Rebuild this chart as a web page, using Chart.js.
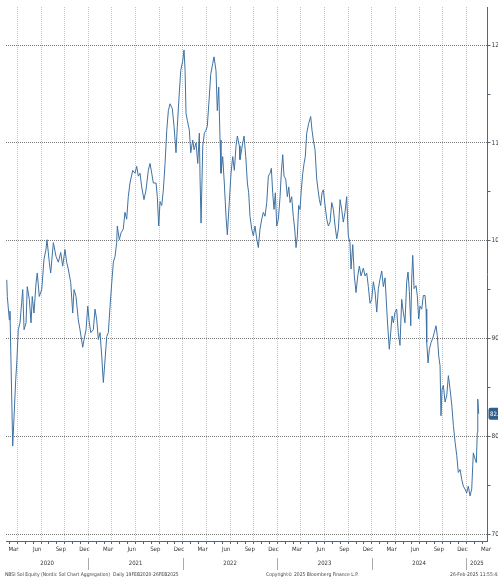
<!DOCTYPE html>
<html>
<head>
<meta charset="utf-8">
<script src="https://cdn.jsdelivr.net/npm/chart.js@4.4.1/dist/chart.umd.min.js"></script>
<style>
  html, body { margin: 0; padding: 0; background: #fff; }
  #wrap { width: 498px; height: 580px; }
</style>
</head>
<body>
<div id="wrap"><canvas id="chart" width="498" height="580"></canvas></div>
<script>
// time as decimal years, value as index level
const dates = [
  2020.137, 2020.143, 2020.164, 2020.171, 2020.182, 2020.200, 2020.214, 2020.232, 2020.243, 2020.259,
  2020.277, 2020.295, 2020.306, 2020.320, 2020.341, 2020.354, 2020.376, 2020.394, 2020.407, 2020.425,
  2020.447, 2020.460, 2020.481, 2020.507, 2020.531, 2020.552, 2020.563, 2020.587, 2020.602, 2020.630,
  2020.658, 2020.683, 2020.708, 2020.729, 2020.753, 2020.771, 2020.788, 2020.814, 2020.835, 2020.849,
  2020.870, 2020.894, 2020.912, 2020.941, 2020.955, 2020.976, 2020.994, 2021.011, 2021.026, 2021.053,
  2021.071, 2021.089, 2021.106, 2021.124, 2021.142, 2021.159, 2021.177, 2021.195, 2021.212, 2021.230,
  2021.248, 2021.265, 2021.283, 2021.300, 2021.307, 2021.328, 2021.346, 2021.370, 2021.388, 2021.406,
  2021.423, 2021.441, 2021.470, 2021.494, 2021.512, 2021.529, 2021.547, 2021.565, 2021.589, 2021.611,
  2021.635, 2021.653, 2021.671, 2021.688, 2021.717, 2021.730, 2021.745, 2021.759, 2021.777, 2021.794,
  2021.812, 2021.830, 2021.847, 2021.865, 2021.889, 2021.907, 2021.928, 2021.942, 2021.960, 2021.978,
  2021.999, 2022.013, 2022.024, 2022.034, 2022.048, 2022.069, 2022.084, 2022.105, 2022.119, 2022.140,
  2022.158, 2022.175, 2022.182, 2022.193, 2022.211, 2022.228, 2022.245, 2022.259, 2022.280, 2022.295,
  2022.316, 2022.330, 2022.351, 2022.365, 2022.380, 2022.394, 2022.404, 2022.422, 2022.439, 2022.457,
  2022.471, 2022.492, 2022.510, 2022.528, 2022.545, 2022.563, 2022.577, 2022.598, 2022.605, 2022.634,
  2022.648, 2022.666, 2022.683, 2022.697, 2022.711, 2022.729, 2022.746, 2022.764, 2022.782, 2022.799,
  2022.817, 2022.835, 2022.852, 2022.870, 2022.888, 2022.905, 2022.923, 2022.937, 2022.951, 2022.965,
  2022.979, 2022.994, 2023.011, 2023.029, 2023.042, 2023.057, 2023.071, 2023.089, 2023.106, 2023.121,
  2023.135, 2023.152, 2023.169, 2023.184, 2023.198, 2023.212, 2023.226, 2023.240, 2023.254, 2023.269,
  2023.283, 2023.296, 2023.311, 2023.332, 2023.353, 2023.367, 2023.381, 2023.399, 2023.417, 2023.431,
  2023.445, 2023.459, 2023.473, 2023.487, 2023.505, 2023.523, 2023.540, 2023.558, 2023.576, 2023.593,
  2023.611, 2023.629, 2023.646, 2023.664, 2023.681, 2023.698, 2023.716, 2023.734, 2023.751, 2023.769,
  2023.780, 2023.798, 2023.815, 2023.833, 2023.851, 2023.868, 2023.886, 2023.910, 2023.928, 2023.946,
  2023.963, 2023.981, 2023.999, 2024.016, 2024.034, 2024.052, 2024.069, 2024.087, 2024.105, 2024.122,
  2024.140, 2024.158, 2024.168, 2024.185, 2024.200, 2024.214, 2024.228, 2024.246, 2024.263, 2024.280,
  2024.298, 2024.316, 2024.333, 2024.351, 2024.369, 2024.383, 2024.397, 2024.412, 2024.422, 2024.433,
  2024.447, 2024.468, 2024.481, 2024.496, 2024.510, 2024.528, 2024.545, 2024.563, 2024.574, 2024.581,
  2024.595, 2024.609, 2024.627, 2024.644, 2024.661, 2024.679, 2024.693, 2024.708, 2024.722, 2024.732,
  2024.743, 2024.757, 2024.775, 2024.793, 2024.810, 2024.828, 2024.846, 2024.863, 2024.881, 2024.899,
  2024.915, 2024.934, 2024.951, 2024.968, 2024.986, 2025.004, 2025.021, 2025.039, 2025.057, 2025.068,
  2025.074, 2025.092, 2025.106, 2025.116, 2025.121, 2025.131
];
const values = [
  96.0, 94.3, 91.9, 92.8, 87.5, 79.0, 82.0, 85.8, 87.5, 90.9,
  91.6, 93.7, 95.0, 90.9, 91.6, 95.3, 94.0, 91.6, 94.3, 92.6,
  95.7, 96.7, 94.3, 95.0, 98.1, 99.1, 100.1, 97.8, 96.7, 99.8,
  98.4, 97.8, 98.8, 97.4, 99.1, 97.8, 97.1, 95.7, 92.6, 95.0,
  94.3, 91.9, 90.9, 89.1, 89.9, 90.9, 93.3, 91.6, 90.6, 90.9,
  93.0, 91.9, 89.9, 90.6, 88.2, 85.5, 87.8, 90.2, 90.6, 93.3,
  95.7, 97.8, 98.4, 99.8, 101.5, 100.1, 100.8, 101.2, 102.9, 102.2,
  104.5, 105.9, 107.2, 106.9, 107.6, 106.6, 106.9, 105.5, 104.2, 105.2,
  107.2, 107.9, 106.9, 105.9, 105.9, 104.5, 101.5, 104.0, 103.6, 105.2,
  107.9, 111.3, 113.3, 114.0, 113.5, 111.7, 109.0, 111.7, 114.7, 117.4,
  118.4, 119.5, 117.4, 113.0, 112.3, 111.3, 109.0, 110.3, 109.3, 110.0,
  107.9, 111.0, 106.6, 101.8, 109.7, 111.0, 111.3, 111.7, 114.7, 117.0,
  118.1, 118.8, 117.4, 113.3, 115.7, 110.3, 106.9, 108.6, 105.9, 102.5,
  100.6, 104.0, 106.9, 108.6, 107.2, 109.7, 110.7, 109.7, 108.3, 110.0,
  110.7, 108.6, 105.9, 104.9, 102.5, 101.2, 100.5, 101.5, 100.2, 99.3,
  101.2, 102.2, 102.9, 102.5, 103.9, 106.6, 106.9, 107.4, 104.9, 103.2,
  104.9, 101.5, 102.2, 104.5, 106.9, 108.8, 106.6, 106.3, 104.5, 105.5,
  103.9, 104.5, 102.5, 101.2, 99.3, 100.5, 103.6, 103.2, 105.2, 106.9,
  107.9, 108.6, 111.0, 112.0, 112.7, 111.3, 110.3, 109.3, 106.3, 105.2,
  104.2, 103.6, 104.9, 105.2, 103.6, 102.2, 101.5, 101.9, 103.9, 103.2,
  101.5, 100.2, 101.2, 104.2, 103.2, 101.9, 102.9, 104.5, 100.5, 99.8,
  97.1, 99.6, 96.4, 94.7, 96.4, 97.4, 96.4, 97.2, 96.4, 96.7,
  95.3, 93.6, 94.0, 95.8, 94.8, 92.7, 95.1, 96.1, 96.9, 95.3,
  96.2, 93.0, 91.3, 88.9, 90.6, 92.3, 91.6, 92.7, 93.0, 90.6,
  89.3, 94.0, 92.7, 91.6, 95.8, 96.8, 94.8, 91.3, 96.1, 98.5,
  95.1, 95.4, 94.4, 92.0, 93.3, 93.0, 94.4, 94.4, 93.0, 89.6,
  87.5, 88.9, 89.6, 90.0, 90.6, 91.3, 90.3, 88.2, 87.2, 82.1,
  84.8, 85.2, 83.5, 84.2, 86.2, 84.8, 83.2, 81.1, 79.4, 78.0,
  76.3, 76.6, 75.6, 74.9, 74.6, 74.2, 74.9, 73.9, 74.6, 77.0,
  78.3, 77.7, 77.3, 80.4, 83.8, 82.3
];

const monthNames = ['Mar', 'Jun', 'Sep', 'Dec'];
const yearLabels = ['2020', '2021', '2022', '2023', '2024', '2025'];
const yTicks = [70, 75, 80, 85, 90, 95, 100, 105, 110, 115, 120];

const X_MIN = 2020.129;
const X_MAX = 2025.224;
const Y_MIN = 69.29;
const Y_MAX = 123.9;

const FONT = '"Liberation Sans Narrow", "DejaVu Sans Condensed", sans-serif';
const AXIS_COLOR = '#4d6880';
const GRID_H = 'rgba(95,95,95,0.85)';
const GRID_V = 'rgba(150,150,150,0.55)';

// month boundaries for grid + minor ticks
const gridTicks = [];
yearLabels.forEach((y) => {
  for (let m = 0; m < 12; m++) {
    const v = Number(y) + m / 12;
    if (v > X_MIN && v < X_MAX) gridTicks.push({ value: v, quarter: m % 3 === 0 });
  }
});

// month labels centred mid-month
const monthTicks = [];
yearLabels.forEach((y) => {
  monthNames.forEach((name, k) => {
    const v = Number(y) + (2.5 + 3 * k) / 12;
    if (v > X_MIN && v < X_MAX) monthTicks.push({ value: v, label: name });
  });
});

// year labels centred on the visible part of each year
const yearTicks = yearLabels.map((y) => {
  const a = Math.max(X_MIN, Number(y));
  const b = Math.min(X_MAX, Number(y) + 1);
  return { value: (a + b) / 2, label: y };
});

const points = dates.map((d, i) => ({ x: d, y: values[i] }));

const extrasPlugin = {
  id: 'extras',
  afterDraw(chart) {
    const { ctx } = chart;
    const xs = chart.scales.x;
    const ys = chart.scales.y;
    const xy = chart.scales.xy;

    // separators in the year row
    ctx.save();
    ctx.strokeStyle = '#aaa';
    ctx.lineWidth = 1;
    yearLabels.slice(1).forEach((y) => {
      const px = Math.round(xs.getPixelForValue(Number(y))) + 0.5;
      ctx.beginPath();
      ctx.moveTo(px, xy.top + 1);
      ctx.lineTo(px, xy.bottom - 2);
      ctx.stroke();
    });
    ctx.restore();

    // last value tag
    const last = values[values.length - 1];
    const py = ys.getPixelForValue(last);
    ctx.save();
    ctx.fillStyle = '#2f5f8c';
    const bx = chart.chartArea.right + 1;
    ctx.beginPath();
    ctx.roundRect(bx, py - 6, 16, 12, 2);
    ctx.fill();
    ctx.fillStyle = '#fff';
    ctx.font = '6px ' + FONT;
    ctx.textBaseline = 'middle';
    ctx.fillText(last.toFixed(1), bx + 1.5, py + 0.5);
    ctx.restore();

    // footer
    ctx.save();
    ctx.fillStyle = '#444';
    ctx.font = '5px ' + FONT;
    ctx.textBaseline = 'middle';
    ctx.fillText('NBSI SoI Equity (Nordic SoI Chart Aggregation)  Daily 19FEB2020-26FEB2025', 5, 575);
    ctx.fillText('Copyright\u00a9 2025 Bloomberg Finance L.P.', 266, 575);
    ctx.textAlign = 'right';
    ctx.fillText('26-Feb-2025 11:55:42', 500, 575);
    ctx.restore();
  }
};

new Chart(document.getElementById('chart'), {
  type: 'line',
  data: {
    datasets: [{
      data: points,
      xAxisID: 'x',
      yAxisID: 'y',
      borderColor: '#3f72a3',
      borderWidth: 1,
      pointRadius: 0,
      tension: 0,
      fill: false
    }]
  },
  options: {
    responsive: false,
    animation: false,
    layout: { padding: { left: 6, top: 7, right: 0, bottom: 8 } },
    plugins: { legend: { display: false }, tooltip: { enabled: false } },
    scales: {
      x: {
        type: 'linear',
        position: 'bottom',
        min: X_MIN,
        max: X_MAX,
        afterBuildTicks: (axis) => { axis.ticks = gridTicks.map((t) => ({ value: t.value })); },
        afterFit: (axis) => { axis.height = 3; },
        ticks: { display: false },
        grid: {
          color: (c) => (c.tick && gridTicks[c.index] && gridTicks[c.index].quarter) ? GRID_V : 'rgba(0,0,0,0)',
          lineWidth: 1,
          drawTicks: true,
          tickLength: 3,
          tickColor: AXIS_COLOR,
          tickBorderDash: []
        },
        border: { display: true, color: AXIS_COLOR, width: 1, dash: [1, 1] }
      },
      xm: {
        type: 'linear',
        position: 'bottom',
        min: X_MIN,
        max: X_MAX,
        afterBuildTicks: (axis) => { axis.ticks = monthTicks.map((t) => ({ value: t.value })); },
        afterFit: (axis) => { axis.height = 13; },
        ticks: {
          autoSkip: false,
          maxRotation: 0,
          padding: 2,
          color: '#333',
          font: { family: FONT, size: 6 },
          callback: (v, i) => monthTicks[i] ? monthTicks[i].label : ''
        },
        grid: { display: false, drawTicks: false },
        border: { display: false }
      },
      xy: {
        type: 'linear',
        position: 'bottom',
        min: X_MIN,
        max: X_MAX,
        afterBuildTicks: (axis) => { axis.ticks = yearTicks.map((t) => ({ value: t.value })); },
        afterFit: (axis) => { axis.height = 15; },
        ticks: {
          autoSkip: false,
          maxRotation: 0,
          padding: 3,
          color: '#333',
          font: { family: FONT, size: 6 },
          callback: (v, i) => yearTicks[i] ? yearTicks[i].label : ''
        },
        grid: { display: false, drawTicks: false },
        border: { display: false }
      },
      y: {
        type: 'linear',
        position: 'right',
        min: Y_MIN,
        max: Y_MAX,
        afterBuildTicks: (axis) => { axis.ticks = yTicks.map((v) => ({ value: v })); },
        afterFit: (axis) => { axis.width = 10.5; },
        ticks: {
          padding: 1,
          color: '#333',
          font: { family: FONT, size: 6.5 },
          callback: (v) => (v % 10 === 0 ? String(v) : '')
        },
        grid: {
          color: (c) => (c.tick && c.tick.value % 10 === 0) ? GRID_H : 'rgba(0,0,0,0)',
          lineWidth: 1,
          drawTicks: true,
          tickLength: 3,
          tickColor: AXIS_COLOR,
          tickBorderDash: []
        },
        border: { display: true, color: AXIS_COLOR, width: 1, dash: [1, 1] }
      }
    }
  },
  plugins: [extrasPlugin]
});
</script>
</body>
</html>
